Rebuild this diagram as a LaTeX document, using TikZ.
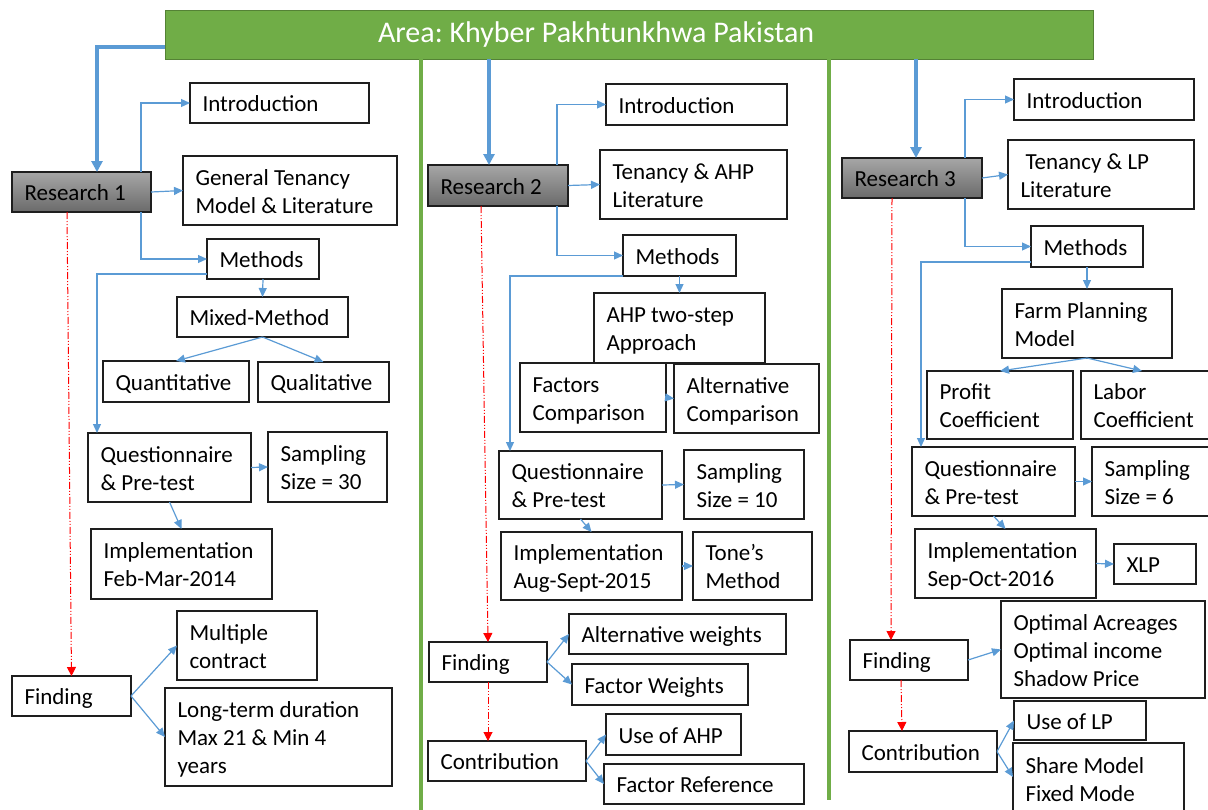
\documentclass[tikz,border=0pt]{standalone}
\usepackage{fontspec}
\setmainfont{Carlito}
\usetikzlibrary{arrows.meta}

\definecolor{lnblue}{HTML}{5B9BD5}
\definecolor{areagreen}{HTML}{70AD47}
\definecolor{areaedge}{HTML}{548235}
\definecolor{greytop}{HTML}{A6A6A6}
\definecolor{greybot}{HTML}{6A6A6A}
\definecolor{boxline}{HTML}{1E1E1E}

% strut that centres a line on its capitals
\newcommand\tstrut{\rule[-5pt]{0pt}{27pt}}
% \bx[style]{name}{left}{top}{right}{bottom}{text}
\newcommand\bx[7][]{%
  \pgfmathsetmacro\bxw{#5-#3}%
  \pgfmathsetmacro\bxh{#6-#4}%
  \pgfmathsetmacro\bxt{#5-#3-25}%
  \node[bx,#1,minimum width=\bxw pt,minimum height=\bxh pt,text width=\bxt pt] (#2) at (#3,#4)
    {\hyphenpenalty=10000\relax\exhyphenpenalty=10000\relax\tstrut#7\tstrut};}

\tikzset{
  bx/.style={draw=boxline, line width=1.3pt, fill=white, anchor=north west,
    inner xsep=12.5pt, inner ysep=0pt, outer sep=0pt, align=flush left,
    font=\fontsize{23}{28}\selectfont},
  grey/.style={top color=greytop, bottom color=greybot},
  conn/.style={draw=lnblue, line width=1.2pt, -{Triangle[length=9pt,width=8pt]}},
  thickarr/.style={draw=lnblue, line width=3.5pt, -{Triangle[length=11pt,width=11pt]}},
  redarr/.style={draw=red, line width=1pt,
    dash pattern=on 7pt off 2pt on 1pt off 2pt on 1pt off 2pt,
    -{Triangle[length=9pt,width=9pt]}},
  divider/.style={draw=areagreen, line width=3.5pt},
}

\begin{document}
\begin{tikzpicture}[x=1pt,y=-1pt]
\useasboundingbox (0,0) rectangle (1208,809);
\clip (0,0) rectangle (1208,809);

% title banner
\node[draw=areaedge, line width=1pt, fill=areagreen, anchor=north west,
  minimum width=928pt, minimum height=49pt, inner xsep=213pt, inner ysep=0pt,
  outer sep=0pt, text width=502pt, align=flush left, text=white,
  font=\fontsize{30}{36}\selectfont] (area) at (165,10)
  {Area:~Khyber~Pakhtunkhwa~Pakistan};

% column dividers
\coordinate (d1) at (421,812);
\coordinate (d2) at (829,800);
\draw[divider] (area.south -| d1) -- (d1);
\draw[divider] (area.south -| d2) -- (d2);

% ---- Research 1 ----
\bx[grey]{r1}{12}{172}{151}{212}{Research~1}
\bx{in1}{190}{83}{369}{123}{Introduction}
\bx{gt}{183}{156}{397}{225}{General~Tenancy\\Model~\&~Literature}
\bx{m1}{207}{239}{319}{279}{Methods}
\bx{mm}{177}{297}{348}{337}{Mixed-Method}
\bx{qt}{103}{361}{249}{402}{Quantitative}
\bx{ql}{258}{362}{389}{402}{Qualitative}
\bx{q1}{88}{433}{251}{502}{Questionnaire\\\&~Pre-test}
\bx{s1}{268}{432}{387}{502}{Sampling\\Size~=~30}
\bx{im1}{91}{529}{272}{599}{Implementation\\Feb-Mar-2014}
\bx{mc}{177}{611}{317}{680}{Multiple\\contract}
\bx{f1}{12}{676}{131}{716}{Finding}
\bx{lt}{165}{688}{392}{786}{Long-term~duration\\Max~21~\&~Min~4\\years}

% ---- Research 2 ----
\bx[grey]{r2}{428}{165}{568}{206}{Research~2}
\bx{in2}{606}{84}{787}{125}{Introduction}
\bx{ta}{600}{150}{787}{219}{Tenancy~\&~AHP\\Literature}
\bx{m2}{623}{235}{736}{276}{Methods}
\bx{ahp}{594}{293}{765}{363}{AHP~two-step\\Approach}
\bx{fc}{520}{363}{666}{432}{Factors\\Comparison}
\bx{ac}{674}{364}{819}{433}{Alternative\\Comparison}
\bx{q2}{499}{451}{662}{519}{Questionnaire\\\&~Pre-test}
\bx{s2}{684}{450}{804}{519}{Sampling\\Size~=~10}
\bx{im2}{501}{532}{682}{600}{Implementation\\Aug-Sept-2015}
\bx{tm}{693}{532}{812}{600}{Tone’s\\Method}
\bx{aw}{569}{614}{786}{654}{Alternative~weights}
\bx{fw}{572}{664}{748}{705}{Factor~Weights}
\bx{f2}{429}{642}{547}{682}{Finding}
\bx{c2}{428}{741}{586}{781}{Contribution}
\bx{ua}{606}{714}{741}{755}{Use~of~AHP}
\bx{fr}{604}{764}{804}{804}{Factor~Reference}

% ---- Research 3 ----
\bx[grey]{r3}{842}{158}{982}{198}{Research~3}
\bx{in3}{1014}{79}{1194}{120}{Introduction}
\bx{tl}{1008}{140}{1194}{209}{\hspace*{5pt}Tenancy~\&~LP\\Literature}
\bx{m3}{1031}{226}{1143}{267}{Methods}
\bx{fp}{1002}{289}{1172}{358}{Farm~Planning\\Model}
\bx{pc}{927}{371}{1073}{439}{Profit\\Coefficient}
\bx{lc}{1081}{371}{1215}{439}{Labor\\Coefficient}
\bx{q3}{912}{447}{1075}{516}{Questionnaire\\\&~Pre-test}
\bx{s3}{1092}{447}{1215}{516}{Sampling\\Size~=~6}
\bx{im3}{915}{529}{1096}{598}{Implementation\\Sep-Oct-2016}
\bx{xlp}{1114}{544}{1196}{584}{XLP}
\bx{f3}{850}{640}{968}{680}{Finding}
\bx{opt}{1001}{601}{1205}{698}{Optimal~Acreages\\Optimal~income\\Shadow~Price}
\bx{c3}{849}{731}{997}{772}{Contribution}
\bx{ulp}{1014}{701}{1146}{740}{Use~of~LP}
\bx{sm}{1013}{743}{1184}{815}{Share~Model\\Fixed~Mode}

% banner to each study
\coordinate (r1in) at ([xshift=15.5pt]r1.north);
\coordinate (r2in) at ([xshift=-9pt]r2.north);
\coordinate (r3in) at ([xshift=4pt]r3.north);
\draw[thickarr] ([yshift=-12.5pt]area.west) -| (r1in);
\draw[thickarr] (area.south -| r2in) -- (r2in);
\draw[thickarr] (area.south -| r3in) -- (r3in);

% study 1 links
\draw[conn] ([xshift=-10pt]r1.north east) |- (in1.west);
\draw[conn] (r1.east) -- (gt.west);
\draw[conn] ([xshift=-10pt]r1.south east) |- (m1.west);
\draw[conn] ([yshift=5pt]m1.south west) -| ([xshift=9pt]q1.north west);
\draw[conn] (m1.south) -- (mm.north);
\draw[conn] (mm.south) -- (qt.north);
\draw[conn] (mm.south) -- (ql.north);
\draw[conn] (q1.east) -- (s1.west);
\draw[conn] (q1.south) -- (im1.north);
\draw[redarr] ([xshift=-14.5pt]r1.south) -- (f1.north);
\draw[conn] (f1.east) -- (mc.west);
\draw[conn] (f1.east) -- (lt.west);

% study 2 links
\draw[conn] ([xshift=-11pt]r2.north east) |- (in2.west);
\draw[conn] (r2.east) -- (ta.west);
\draw[conn] ([xshift=-11pt]r2.south east) |- (m2.west);
\draw[conn] (m2.south west) -| ([xshift=11pt]q2.north west);
\draw[conn] (m2.south) -- (ahp.north);
\draw[conn] (fc.east) -- (ac.west);
\draw[conn] (q2.east) -- (s2.west);
\draw[conn] (q2.south) -- (im2.north);
\draw[conn] (im2.east) -- (tm.west);
\draw[redarr] ([xshift=-17pt]r2.south) -- (f2.north);
\draw[redarr] (f2.south) -- (f2.south |- c2.north);
\draw[conn] (f2.east) -- (aw.west);
\draw[conn] (f2.east) -- (fw.west);
\draw[conn] (c2.east) -- (ua.west);
\draw[conn] (c2.east) -- (fr.west);

% study 3 links
\draw[conn] ([xshift=-17pt]r3.north east) |- (in3.west);
\draw[conn] (r3.east) -- (tl.west);
\draw[conn] ([xshift=-17pt]r3.south east) |- (m3.west);
\draw[conn] ([yshift=5pt]m3.south west) -| ([xshift=9pt]q3.north west);
\draw[conn] (m3.south) -- (fp.north);
\draw[conn] (fp.south) -- (pc.north);
\draw[conn] (fp.south) -- ([xshift=-6pt]lc.north);
\draw[conn] (q3.east) -- (s3.west);
\draw[conn] (q3.south) -- (im3.north);
\draw[conn] (im3.east) -- (xlp.west);
\draw[redarr] ([xshift=-20pt]r3.south) -- ([xshift=-18pt]f3.north);
\draw[redarr] ([xshift=-8pt]f3.south) -- ([xshift=-21pt]c3.north);
\draw[conn] (f3.east) -- (opt.west);
\draw[conn] (c3.east) -- (ulp.west);
\draw[conn] (c3.east) -- ([yshift=2pt]sm.west);
\end{tikzpicture}
\end{document}
